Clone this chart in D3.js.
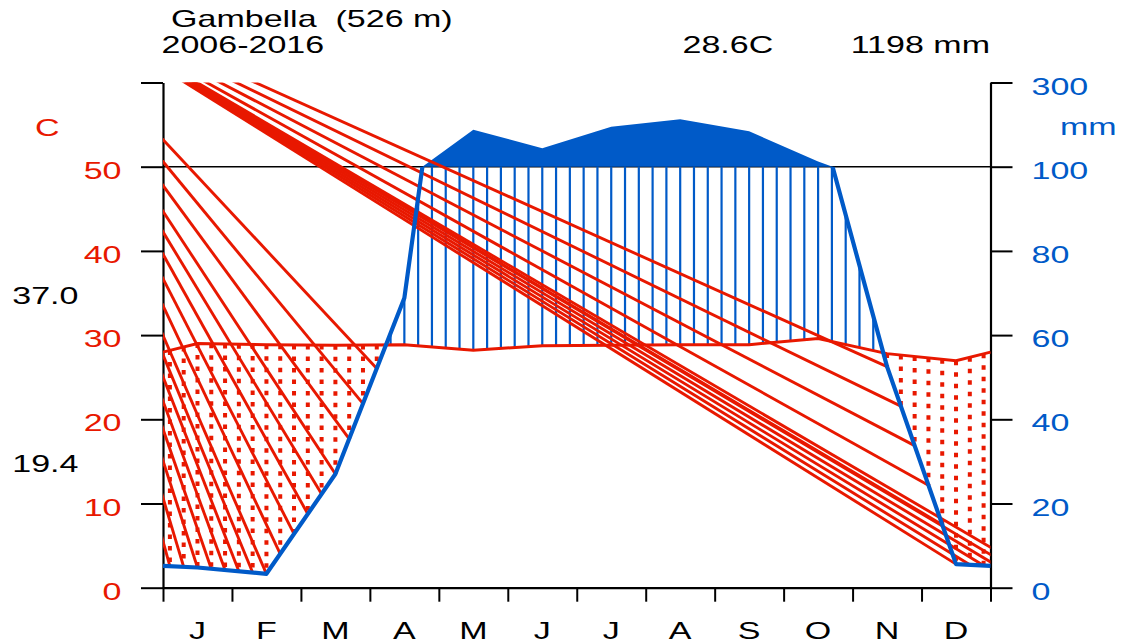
<!DOCTYPE html>
<html>
<head>
<meta charset="utf-8">
<script src="https://d3js.org/d3.v7.min.js"></script>
<style>
  body { margin: 0; background: #fff; }
  text { font-family: "Liberation Sans", Arial, Helvetica, sans-serif; font-size: 23px; white-space: pre; }
</style>
</head>
<body>
<svg id="chart" width="1126" height="643"></svg>
<script>
// monthly climate values
var months = ["J", "F", "M", "A", "M", "J", "J", "A", "S", "O", "N", "D"];
var tempC = [29.0, 28.85, 28.8, 28.85, 28.2, 28.74, 28.8, 28.86, 28.86, 29.6, 27.8, 26.96];
var precipMm = [4.8, 3.3, 27, 68.8, 188, 144, 195, 213, 184, 112.6, 52.5, 5.6];
var tempTicks = [0, 10, 20, 30, 40, 50, 60];
var precipTicks = [0, 20, 40, 60, 80, 100, 300];
// common end point of the red hatch strokes (month, degC), outside the plot
var hatchApex = [-2.3, 73.4];

var tcol = "#e81800", pcol = "#005ac8";
var sx = 1.48;

var svg = d3.select("#chart");

var x = d3.scaleLinear().domain([0, 12]).range([163, 990.5]);
var yT = d3.scaleLinear().domain([0, 60]).range([587.7, 82.5]);
var yP = d3.scaleLinear().domain([0, 100, 300]).range([yT(0), yT(50), yT(60)]);
var yPlin = d3.scaleLinear().domain([0, 100]).range([yT(0), yT(50)]);

// month mid points plus wrapped ends
function series(vals) {
  var end = (vals[0] + vals[11]) / 2;
  var pts = [[0, end]];
  vals.forEach(function(v, i) { pts.push([i + 0.5, v]); });
  pts.push([12, end]);
  return pts;
}
var tPts = series(tempC), pPts = series(precipMm);

function at(pts, m) {
  m = ((m % 12) + 12) % 12;
  for (var i = 1; i < pts.length; i++) {
    if (m <= pts[i][0]) {
      var a = pts[i - 1], b = pts[i];
      return a[1] + (b[1] - a[1]) * (m - a[0]) / (b[0] - a[0]);
    }
  }
  return pts[pts.length - 1][1];
}

function txt(px, py, s, anchor, color) {
  return svg.append("text")
    .attr("transform", "translate(" + px + "," + py + ") scale(" + sx + ",1)")
    .attr("text-anchor", anchor)
    .attr("fill", color)
    .text(s);
}

var defs = svg.append("defs");
defs.append("clipPath").attr("id", "plotClip").append("rect")
  .attr("x", x(0)).attr("y", yT(60)).attr("width", x(12) - x(0)).attr("height", yT(0) - yT(60));
defs.append("clipPath").attr("id", "lowClip").append("rect")
  .attr("x", 0).attr("y", yT(50)).attr("width", 1126).attr("height", 643 - yT(50));

// axes
var left = svg.append("g").attr("transform", "translate(" + x(0) + ",0)")
  .call(d3.axisLeft(yT).tickValues(tempTicks).tickSize(22).tickSizeOuter(0)
    .tickFormat(function(d) { return d === 60 ? "" : d; }));
left.selectAll("text").attr("x", 0).attr("dy", "0.5em").attr("fill", tcol)
  .attr("transform", "translate(-41.5,0) scale(" + sx + ",1)");

var right = svg.append("g").attr("transform", "translate(" + x(12) + ",0)")
  .call(d3.axisRight(yP).tickValues(precipTicks).tickSize(22).tickSizeOuter(0));
right.selectAll("text").attr("x", 0).attr("dy", "0.5em").attr("fill", pcol)
  .attr("transform", "translate(41,0) scale(" + sx + ",1)");

var bottom = svg.append("g").attr("transform", "translate(0," + yT(0) + ")")
  .call(d3.axisBottom(x).tickValues(d3.range(13)).tickSize(14).tickSizeOuter(0).tickFormat(""));

svg.selectAll(".domain").attr("stroke-width", 2.2);
svg.selectAll(".tick line").attr("stroke-width", 2);
svg.selectAll("g").attr("font-family", null).attr("font-size", null);

svg.append("line")
  .attr("x1", x(0)).attr("x2", x(12)).attr("y1", yT(50)).attr("y2", yT(50))
  .attr("stroke", "#000").attr("stroke-width", 1.6);

// wet part above 100 mm, compressed scale
var wet = [];
for (var i = 1; i < pPts.length; i++) {
  var a = pPts[i - 1], b = pPts[i];
  if ((a[1] - 100) * (b[1] - 100) < 0) {
    var m = a[0] + (100 - a[1]) * (b[0] - a[0]) / (b[1] - a[1]);
    wet.push([m, 100]);
  }
  if (b[1] > 100) wet.push(b);
}
svg.append("path")
  .attr("d", d3.line().x(function(d) { return x(d[0]); }).y(function(d) { return yP(d[1]); })(wet) + "Z")
  .attr("fill", pcol);

// 5 hatch columns per month
var cols = d3.range(63).map(function(k) {
  var m = (k + 0.5) * 0.2;
  return { m: m, t: at(tPts, m), p: at(pPts, m), inside: k < 60 };
});

svg.append("g").selectAll("line")
  .data(cols.filter(function(c) { return c.inside && c.p / 2 > c.t; }))
  .join("line")
  .attr("x1", function(c) { return x(c.m); }).attr("x2", function(c) { return x(c.m); })
  .attr("y1", function(c) { return yT(c.t); })
  .attr("y2", function(c) { return yPlin(Math.min(c.p, 100)); })
  .attr("stroke", pcol).attr("stroke-width", 2.2);

svg.append("g").selectAll("line")
  .data(cols.filter(function(c) { return c.inside && c.p / 2 < c.t; }))
  .join("line")
  .attr("x1", function(c) { return x(c.m); }).attr("x2", function(c) { return x(c.m); })
  .attr("y1", function(c) { return yT(c.t); })
  .attr("y2", function(c) { return yPlin(c.p); })
  .attr("stroke", tcol).attr("stroke-width", 4).attr("stroke-dasharray", "4.5 7");

svg.append("g").attr("clip-path", "url(#plotClip)").selectAll("line")
  .data(cols.filter(function(c) { return c.p / 2 < c.t; }))
  .join("line")
  .attr("x1", x(hatchApex[0])).attr("y1", yT(hatchApex[1]))
  .attr("x2", function(c) { return x(c.m); })
  .attr("y2", function(c) { return yPlin(c.p); })
  .attr("stroke", tcol).attr("stroke-width", 2.9);

// temperature and precipitation curves
svg.append("path")
  .attr("d", d3.line().x(function(d) { return x(d[0]); }).y(function(d) { return yT(d[1]); })(tPts))
  .attr("fill", "none").attr("stroke", tcol).attr("stroke-width", 3);

svg.append("path")
  .attr("clip-path", "url(#lowClip)")
  .attr("d", d3.line().x(function(d) { return x(d[0]); }).y(function(d) { return yPlin(d[1]); })(pPts))
  .attr("fill", "none").attr("stroke", pcol).attr("stroke-width", 4.2).attr("stroke-linejoin", "round");

// labels
months.forEach(function(s, i) { txt(x(i + 0.5), 638.5, s, "middle", "#000"); });
txt(171, 27, "Gambella  (526 m)", "start", "#000");
txt(161.5, 52.5, "2006-2016", "start", "#000");
txt(682.5, 52.5, "28.6C", "start", "#000");
txt(990, 52.5, "1198 mm", "end", "#000");
txt(35, 136, "C", "start", tcol);
txt(1060, 135, "mm", "start", pcol);
txt(78.5, 304, "37.0", "end", "#000");
txt(78.5, 471.7, "19.4", "end", "#000");
</script>
</body>
</html>
